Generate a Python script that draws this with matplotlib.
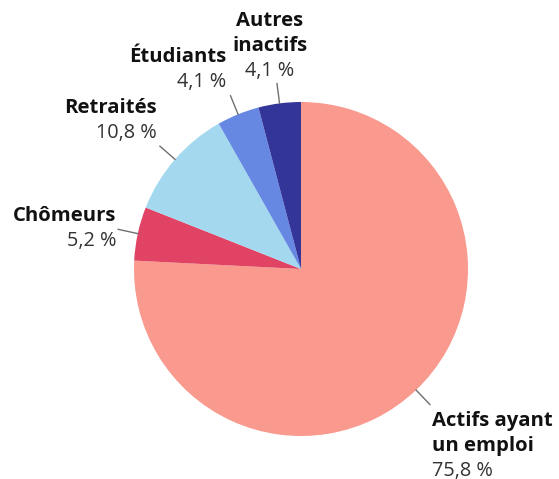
import numpy as np
import matplotlib
matplotlib.use("Agg")
import matplotlib.pyplot as plt

# données
categories = ["Actifs ayant\nun emploi", "Chômeurs", "Retraités", "Étudiants", "Autres\ninactifs"]
parts = [75.8, 5.2, 10.8, 4.1, 4.1]
couleurs = ["#FA998D", "#E04363", "#A3D8EF", "#6688E3", "#333598"]

# placement des étiquettes (pixels par rapport au bout du trait)
alignements = ["left", "right", "right", "right", "center"]
decal_x = [2, -2, -3, -4, -7]
decal_y = [-71, -17, 8, 9, 8]

plt.rcParams["font.family"] = ["Open Sans", "DejaVu Sans"]

fig = plt.figure(figsize=(5.59, 4.79), dpi=100)
ax = fig.add_axes([0, 0, 1, 1])

wedges, _ = ax.pie(parts, colors=couleurs, startangle=90, counterclock=False,
                   radius=1.0, wedgeprops=dict(linewidth=0))

ax.set_xlim(-301 / 167, (559 - 301) / 167)
ax.set_ylim(-(479 - 269) / 167, 269 / 167)
ax.set_aspect("equal")
ax.axis("off")

for w, nom, p, ha, dx, dy in zip(wedges, categories, parts, alignements, decal_x, decal_y):
    ang = np.deg2rad((w.theta1 + w.theta2) / 2)
    x0, y0 = np.cos(ang), np.sin(ang)
    x1, y1 = 1.12 * x0, 1.12 * y0
    ax.plot([x0, x1], [y0, y1], color="#707070", lw=1)

    valeur = f"{p:.1f}".replace(".", ",") + " %"
    ax.annotate(valeur, (x1, y1), xytext=(dx, dy), textcoords="offset pixels",
                ha=ha, va="baseline", fontsize=14.3, color="#333333")
    lignes = nom.split("\n")
    for i, ligne in enumerate(reversed(lignes)):
        ax.annotate(ligne, (x1, y1), xytext=(dx, dy + 25 * (i + 1)),
                    textcoords="offset pixels", ha=ha, va="baseline",
                    fontsize=14.6, fontweight="bold", color="#111111")

fig.savefig("out.png", dpi=100)
